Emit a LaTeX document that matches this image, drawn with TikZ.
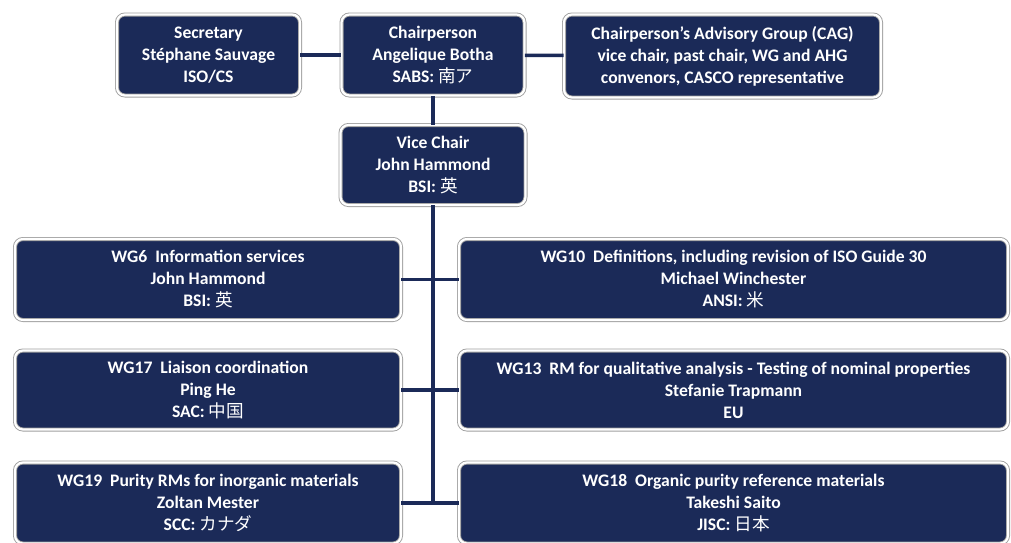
\documentclass[tikz,border=0pt]{standalone}
\usepackage{fontspec}
\setmainfont{Carlito}
\newfontfamily\cjk{Noto Sans CJK JP}
\definecolor{navy}{HTML}{1B2A58}
\begin{document}
\begin{tikzpicture}[x=1pt,y=-1pt,
  box/.style={rectangle, rounded corners=8pt, fill=navy, draw=gray!75, double=white,
    double distance=2.2pt, line width=0.9pt, text=white, align=center, inner sep=0pt,
    font=\bfseries\fontsize{17.6}{22}\selectfont},
  conn/.style={draw=navy, line width=3.5pt}]
\useasboundingbox (0,0) rectangle (1011,542);
\clip (0,0) rectangle (1011,542);
\node[box, minimum width=183, minimum height=81] (sec) at (208.5,55) {Secretary\\Stéphane Sauvage\\ISO/CS};
\node[box, minimum width=183, minimum height=81] (chair) at (433,55) {Chairperson\\Angelique Botha\\SABS: {\cjk\mdseries 南ア}};
\node[box, minimum width=317, minimum height=83] (cag) at (722.5,56) {Chairperson’s Advisory Group (CAG)\\vice chair, past chair, WG and AHG\\convenors, CASCO representative};
\node[box, minimum width=185, minimum height=80] (vice) at (433,165) {Vice Chair\\John Hammond\\BSI: {\cjk\mdseries 英}};
\node[box, minimum width=386, minimum height=81] (wg6) at (208,279.5) {WG6\ \ Information services\\John Hammond\\BSI: {\cjk\mdseries 英}};
\node[box, minimum width=549, minimum height=81] (wg10) at (733.5,279.5) {WG10\ \ Definitions, including revision of ISO Guide 30\\Michael Winchester\\ANSI: {\cjk\mdseries 米}};
\node[box, minimum width=386, minimum height=79] (wg17) at (208,390) {WG17\ \ Liaison coordination\\Ping He\\SAC: {\cjk\mdseries 中国}};
\node[box, minimum width=549, minimum height=79] (wg13) at (733.5,390) {WG13\ \ RM for qualitative analysis - Testing of nominal properties\\Stefanie Trapmann\\EU};
\node[box, minimum width=386, minimum height=81] (wg19) at (208,503) {WG19\ \ Purity RMs for inorganic materials\\Zoltan Mester\\SCC: {\cjk\mdseries カナダ}};
\node[box, minimum width=549, minimum height=81] (wg18) at (733.5,503) {WG18\ \ Organic purity reference materials\\Takeshi Saito\\JISC: {\cjk\mdseries 日本}};
\coordinate (bot) at (vice.south |- wg19.east);
\draw[conn] (sec) -- (chair);
\draw[conn] (chair) -- (cag);
\draw[conn] (chair) -- (vice);
\draw[conn] (vice.south) -- (bot);
\draw[conn] (wg6) -- (wg10);
\draw[conn] (wg17) -- (wg13);
\draw[conn] (wg19) -- (wg18);
\end{tikzpicture}
\end{document}
